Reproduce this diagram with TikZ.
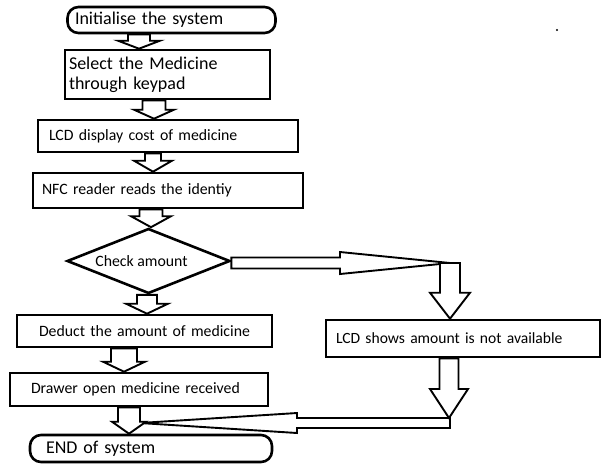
\documentclass[tikz,border=0pt]{standalone}
\usepackage{fontspec}
\setmainfont{Carlito}
\usetikzlibrary{shapes.geometric,calc}
\tikzset{
  box/.style={draw=black, line width=2.6pt, fill=white, rectangle, inner ysep=0pt, font=\fontsize{15.8}{18}\selectfont},
  bigfont/.style={font=\fontsize{18}{20}\selectfont},
  rbox/.style={box, rounded corners=11pt},
  blk/.style={draw=black, line width=1.9pt, fill=white, line join=miter},
}
% #1 from node, #2 to node, #3 x centre, #4 head length, #5 shaft half width, #6 head half width
\newcommand\blkdown[6]{%
  \draw[blk] let \p1=(#1.south), \p2=(#2.north) in
    ({#3-#5},\y1) -- ({#3-#5},\y2+#4pt) -- ({#3-#6},\y2+#4pt) -- (#3,\y2)
    -- ({#3+#6},\y2+#4pt) -- ({#3+#5},\y2+#4pt) -- ({#3+#5},\y1) -- cycle;}
\begin{document}
\begin{tikzpicture}[x=1pt,y=-1pt]
\useasboundingbox (0,0) rectangle (604,472);
% nodes
\node[rbox, bigfont, minimum width=208pt, minimum height=26pt, text width=193pt, inner xsep=0pt, align=left, xshift=7.5pt] (init) at (164,20) {Initialise the system};
\node[box, bigfont, minimum width=205pt, minimum height=49pt, text width=197pt, inner xsep=4pt, align=left] (select) at (167.5,74.5) {Select the Medicine\\through keypad};
\node[box, minimum width=260pt, minimum height=32pt, text width=238pt, inner xsep=11pt, align=left] (lcd) at (168,136) {LCD display cost of medicine};
\node[box, minimum width=270pt, minimum height=35pt, text width=252pt, inner xsep=9pt, align=left] (nfc) at (168,190.5) {NFC reader reads the identiy};
\node[draw=black, line width=2.6pt, fill=white, diamond, aspect=2.5, minimum width=163pt, minimum height=65pt, inner sep=0pt, font=\fontsize{15.8}{18}\selectfont] (check) at (148.5,261) {\hspace*{-14pt}Check amount};
\node[box, minimum width=255pt, minimum height=32pt, text width=211pt, inner xsep=22pt, align=left] (deduct) at (144.5,331) {Deduct the amount of medicine};
\node[box, minimum width=258pt, minimum height=33pt, text width=216pt, inner xsep=21pt, align=left] (drawer) at (139,389.5) {Drawer open medicine received};
\node[rbox, bigfont, minimum width=242pt, minimum height=27pt, text width=210pt, inner xsep=16pt, align=left] (end) at (151,448.5) {END of system};
\node[box, font=\fontsize{15.6}{18}\selectfont, minimum width=274pt, minimum height=37pt, text width=254pt, inner xsep=10pt, align=left] (show) at (463,338.5) {LCD shows amount is not available};
\fill (557,30) circle (1.2pt);
% junction coordinates
\coordinate (j1) at (450,263);
\coordinate (j2) at (449,418);
\coordinate (j3) at (140,423);
% right branch
\draw[blk] let \p1=(check.east), \p2=(j1) in
  (\x1,{\y2+5.5pt}) -- (340,{\y2+5.5pt}) -- (340,{\y2+11pt}) -- (\x2,\y2)
  -- (340,{\y2-11pt}) -- (340,{\y2-5.5pt}) -- (\x1,{\y2-5.5pt}) -- cycle;
\draw[blk] let \p1=(j1), \p2=(show.north) in
  ({\x1-10pt},\y1) -- ({\x1-10pt},\y2+26pt) -- ({\x1-20pt},\y2+26pt) -- (\x1,\y2)
  -- ({\x1+20pt},\y2+26pt) -- ({\x1+10pt},\y2+26pt) -- ({\x1+10pt},\y1) -- cycle;
\draw[blk] let \p1=(j2), \p2=(j3) in
  ({\x1+1pt},{\y1-0pt}) -- ({\x1+1pt},{\y1-10pt}) -- (297,{\y1-10pt}) -- (297,{\y1-15pt}) -- (\x2,\y2)
  -- (297,{\y1+5pt}) -- (297,{\y1-0pt}) -- cycle;
\draw[blk] let \p1=(show.south), \p2=(j2) in
  ({\x2-9.5pt},\y1) -- ({\x2-9.5pt},\y2+29pt) -- ({\x2-19pt},\y2+29pt) -- (\x2,\y2)
  -- ({\x2+19pt},\y2+29pt) -- ({\x2+9.5pt},\y2+29pt) -- ({\x2+9.5pt},\y1) -- cycle;
% block arrows, main column
\blkdown{init}{select}{139}{8}{11}{21}
\blkdown{select}{lcd}{154}{9}{11.5}{20}
\blkdown{lcd}{nfc}{153}{11}{8}{19}
\blkdown{nfc}{check}{151}{11}{11.5}{20}
\blkdown{check}{deduct}{147}{10}{10}{21}
\blkdown{deduct}{drawer}{124}{10}{13}{21}
\blkdown{drawer}{end}{129}{12}{11}{17}
\end{tikzpicture}
\end{document}
